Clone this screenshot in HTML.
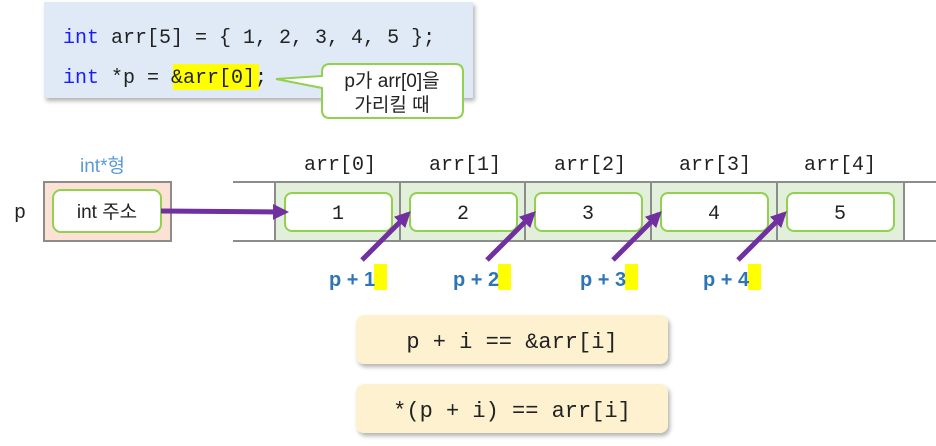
<!DOCTYPE html>
<html><head><meta charset="utf-8"><style>
body{margin:0;background:#fff;}
svg{display:block;}
</style></head><body>
<svg width="936" height="446" viewBox="0 0 936 446" xmlns="http://www.w3.org/2000/svg">
<defs>
<filter id="sh" x="-5%" y="-5%" width="115%" height="125%"><feDropShadow dx="2" dy="3" stdDeviation="2" flood-color="#000" flood-opacity="0.3"/></filter>
<marker id="ah" markerWidth="8" markerHeight="8" refX="6" refY="4" orient="auto" markerUnits="userSpaceOnUse"><path d="M0,0 L8,4 L0,8 Z" fill="#7030a0"/></marker>
<marker id="ah2" markerWidth="16" markerHeight="16" refX="12" refY="8" orient="auto" markerUnits="userSpaceOnUse"><path d="M0,0 L16,8 L0,16 Z" fill="#7030a0"/></marker>
</defs>
<!-- code box -->
<rect x="44" y="2" width="429" height="96" fill="#dfeaf6" filter="url(#sh)"/>
<rect x="173" y="64" width="86" height="26" fill="#ffff00"/>
<g font-family="Liberation Mono, monospace" font-size="20" fill="#222">
<text x="63" y="43"><tspan fill="#1a1aff">int</tspan> arr[5] = { 1, 2, 3, 4, 5 };</text>
<text x="63" y="83"><tspan fill="#1a1aff">int</tspan> *p = &amp;arr[0];</text>
</g>
<!-- callout -->
<path d="M330,64 H455 Q463,64 463,72 V110 Q463,118 455,118 H330 Q322,118 322,110 V88 L276,79 L322,76 V72 Q322,64 330,64 Z" fill="#fff" stroke="#92d050" stroke-width="2"/>
<g font-family="Liberation Sans, Noto Sans CJK KR, sans-serif" font-size="19" fill="#222" text-anchor="middle">
<text x="392" y="87">p가 arr[0]을</text>
<text x="392" y="111">가리킬 때</text>
</g>
<!-- p box -->
<text x="80" y="172" font-family="Liberation Sans, Noto Sans CJK KR, sans-serif" font-size="19" fill="#5b9bd5">int*형</text>
<text x="14" y="218" font-family="Liberation Mono, monospace" font-size="20" fill="#222">p</text>
<rect x="44" y="182" width="127" height="59" fill="#fbe2d5" stroke="#8c8c8c" stroke-width="2"/>
<rect x="53" y="190" width="108" height="42" rx="8" fill="#fff" stroke="#92d050" stroke-width="2"/>
<text x="107" y="218" text-anchor="middle" font-family="Liberation Sans, Noto Sans CJK KR, sans-serif" font-size="19" fill="#222">int 주소</text>
<!-- array -->
<rect x="275" y="182" width="629" height="59" fill="#e2efda"/>
<line x1="233" y1="182" x2="936" y2="182" stroke="#8c8c8c" stroke-width="2"/>
<line x1="233" y1="241" x2="936" y2="241" stroke="#8c8c8c" stroke-width="2"/>
<g stroke="#8c8c8c" stroke-width="2">
<line x1="275" y1="182" x2="275" y2="241"/><line x1="400" y1="182" x2="400" y2="241"/><line x1="525" y1="182" x2="525" y2="241"/><line x1="651" y1="182" x2="651" y2="241"/><line x1="777" y1="182" x2="777" y2="241"/><line x1="904" y1="182" x2="904" y2="241"/>
</g>
<g fill="#fff" stroke="#92d050" stroke-width="2">
<rect x="285" y="193" width="107" height="38" rx="7"/>
<rect x="410" y="193" width="107" height="38" rx="7"/>
<rect x="535" y="193" width="107" height="38" rx="7"/>
<rect x="661" y="193" width="107" height="38" rx="7"/>
<rect x="787" y="193" width="107" height="38" rx="7"/>
</g>
<g font-family="Liberation Mono, monospace" font-size="20" fill="#222" text-anchor="middle">
<text x="338" y="219">1</text><text x="463" y="219">2</text><text x="588" y="219">3</text><text x="714" y="219">4</text><text x="840" y="219">5</text>
<text x="340" y="170">arr[0]</text><text x="465" y="170">arr[1]</text><text x="590" y="170">arr[2]</text><text x="715" y="170">arr[3]</text><text x="840" y="170">arr[4]</text>
</g>
<!-- arrows -->
<line x1="161" y1="211" x2="285" y2="212" stroke="#7030a0" stroke-width="5" marker-end="url(#ah2)"/>
<g stroke="#7030a0" stroke-width="5">
<line x1="362" y1="260" x2="408" y2="214" marker-end="url(#ah2)"/>
<line x1="487" y1="260" x2="533" y2="214" marker-end="url(#ah2)"/>
<line x1="613" y1="260" x2="659" y2="214" marker-end="url(#ah2)"/>
<line x1="738" y1="260" x2="784" y2="214" marker-end="url(#ah2)"/>
</g>
<!-- p + labels -->
<g fill="#ffff00"><rect x="374" y="264" width="13" height="26"/><rect x="498" y="264" width="13" height="26"/><rect x="625" y="264" width="13" height="26"/><rect x="748" y="264" width="13" height="26"/></g>
<g font-family="Liberation Sans, sans-serif" font-size="20" font-weight="bold" fill="#2e75b6">
<text x="329" y="286">p + 1</text><text x="453" y="286">p + 2</text><text x="580" y="286">p + 3</text><text x="703" y="286">p + 4</text>
</g>
<!-- formula boxes -->
<rect x="356" y="315" width="312" height="49" rx="8" fill="#fdf1cf" filter="url(#sh)"/>
<rect x="356" y="384" width="312" height="49" rx="8" fill="#fdf1cf" filter="url(#sh)"/>
<g font-family="Liberation Mono, monospace" font-size="22" fill="#222" text-anchor="middle">
<text x="512" y="348">p + i == &amp;arr[i]</text>
<text x="512" y="417">*(p + i) == arr[i]</text>
</g>
</svg>
</body></html>
